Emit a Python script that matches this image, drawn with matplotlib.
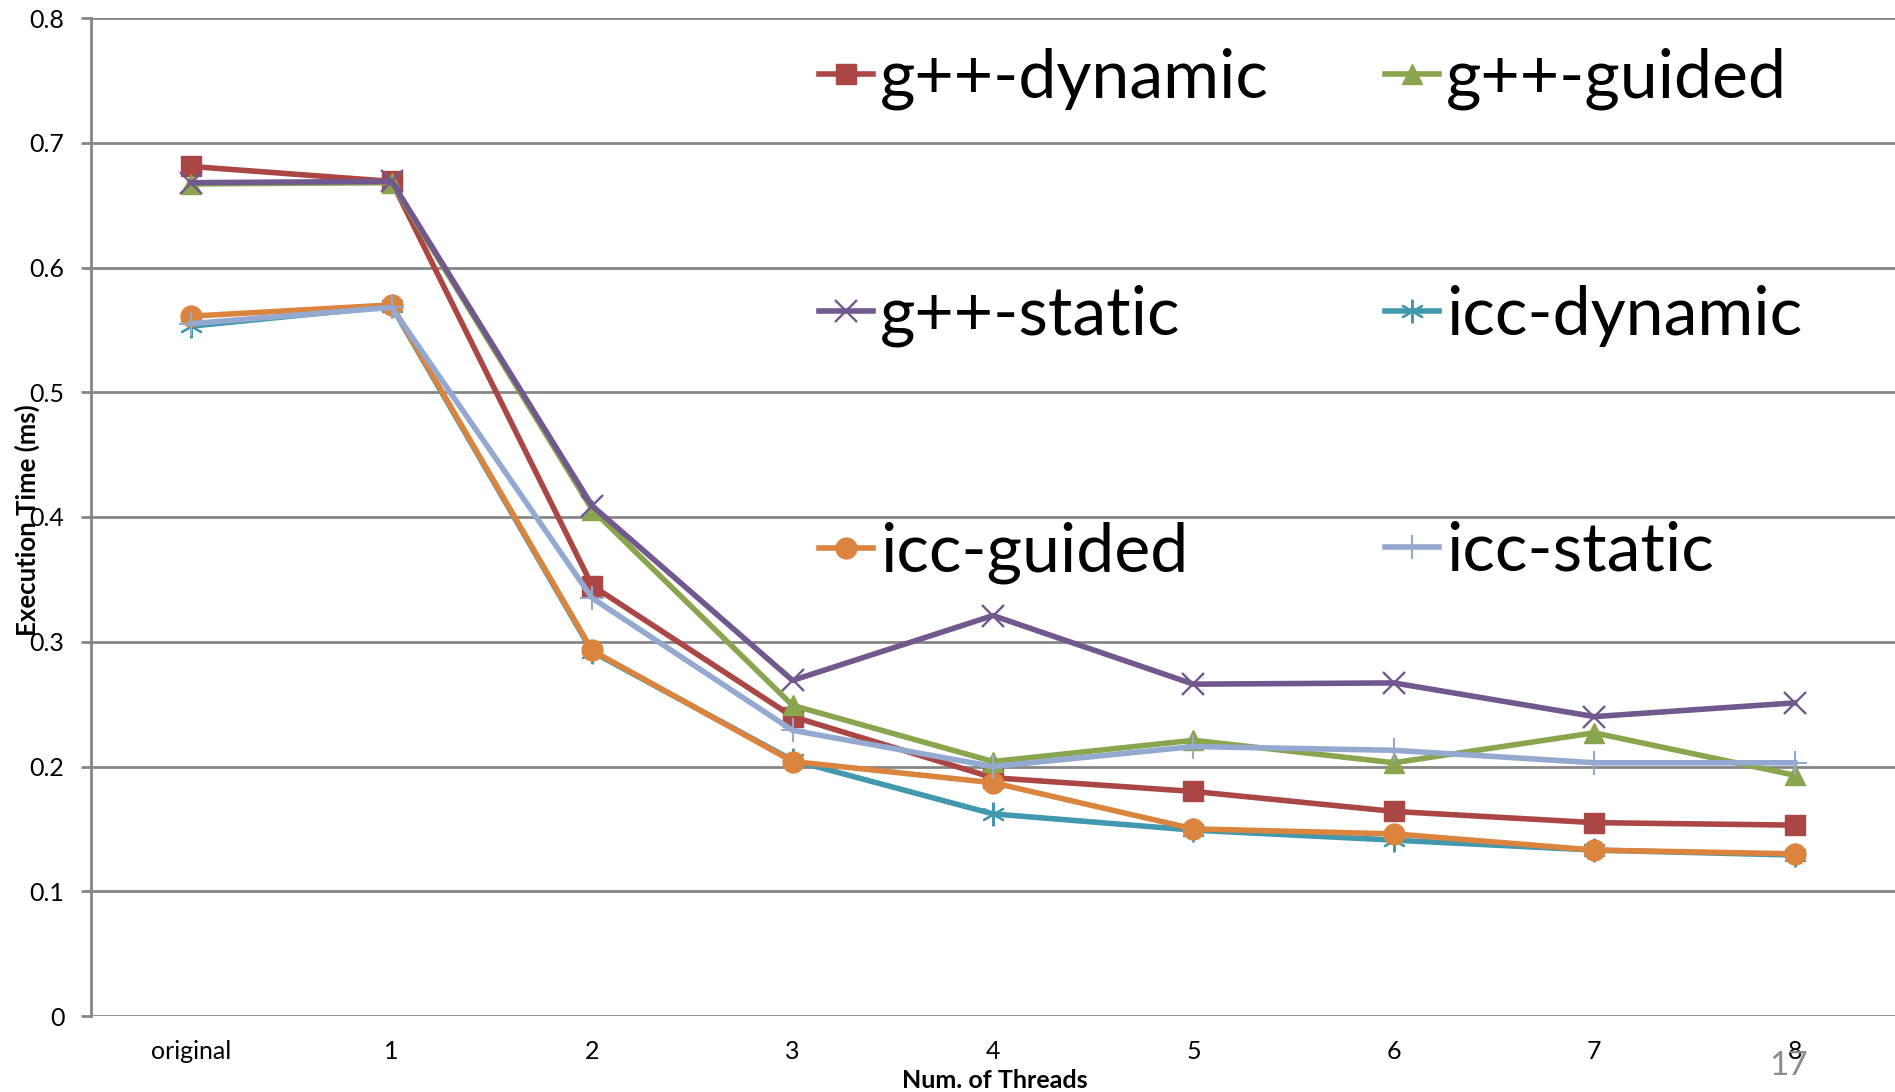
import matplotlib
matplotlib.use('Agg')
import matplotlib.pyplot as plt

plt.rcParams['font.family'] = ['Lato', 'DejaVu Sans']

categories = ['original', '1', '2', '3', '4', '5', '6', '7', '8']

gpp_dynamic = [0.681, 0.669, 0.345, 0.240, 0.191, 0.180, 0.164, 0.155, 0.153]
gpp_guided = [0.667, 0.668, 0.406, 0.249, 0.204, 0.221, 0.203, 0.227, 0.193]
gpp_static = [0.668, 0.669, 0.409, 0.269, 0.321, 0.266, 0.267, 0.240, 0.251]
icc_dynamic = [0.553, 0.569, 0.292, 0.205, 0.162, 0.149, 0.141, 0.133, 0.129]
icc_guided = [0.561, 0.570, 0.293, 0.204, 0.187, 0.150, 0.146, 0.133, 0.130]
icc_static = [0.555, 0.568, 0.335, 0.229, 0.200, 0.216, 0.213, 0.203, 0.203]

series = [
    ('g++-dynamic', gpp_dynamic, '#AA4643', 's', 14, 1),
    ('g++-guided', gpp_guided, '#89A54E', '^', 15, 1),
    ('g++-static', gpp_static, '#71588F', 'x', 16, 1.7),
    ('icc-dynamic', icc_dynamic, '#4198AF', (6, 2, 0), 17, 1.5),
    ('icc-guided', icc_guided, '#DB843D', 'o', 15, 1),
    ('icc-static', icc_static, '#93A9CF', '+', 17, 1.5),
]

fig = plt.figure(figsize=(18.95, 10.92), dpi=100)
ax = fig.add_axes([91 / 1895, 76 / 1092, 1 - 91 / 1895, (1016 - 18) / 1092])

x = list(range(len(categories)))
handles = []
for name, vals, color, mk, ms, mew in series:
    h, = ax.plot(x, vals, color=color, lw=4, marker=mk, markersize=ms,
                 markeredgewidth=mew, markeredgecolor=color, markerfacecolor=color,
                 label=name)
    handles.append(h)

ax.set_xlim(-0.5, len(categories) - 0.5)
ax.set_ylim(0, 0.8)
ax.set_yticks([0, 0.1, 0.2, 0.3, 0.4, 0.5, 0.6, 0.7, 0.8])
ax.set_yticklabels(['0', '0.1', '0.2', '0.3', '0.4', '0.5', '0.6', '0.7', '0.8'])
ax.set_xticks(x)
ax.set_xticklabels(categories)
ax.grid(axis='y', color='#868686', lw=2)
ax.set_axisbelow(True)
for s in ['top', 'right', 'bottom']:
    ax.spines[s].set_visible(False)
ax.spines['left'].set_color('#868686')
ax.spines['left'].set_linewidth(2)
ax.tick_params(axis='y', length=7, width=2, color='#868686', pad=12, labelsize=18)
ax.tick_params(axis='x', length=0, pad=17, labelsize=18)

fig.text(27 / 1895, 1 - 520 / 1092, 'Execution Time (ms)', rotation=90,
         ha='center', va='center', fontsize=18.5, fontweight='bold')
fig.text(995 / 1895, 1 - 1080 / 1092, 'Num. of Threads', ha='center', va='center',
         fontsize=18, fontweight='bold')
fig.text(1789 / 1895, 1 - 1066 / 1092, '17', ha='center', va='center',
         fontsize=24, color='#8C8C8C')

leg_order = [0, 2, 4, 1, 3, 5]
leg = ax.legend([handles[i] for i in leg_order],
                [series[i][0] for i in leg_order],
                ncol=2, loc='upper left', bbox_to_anchor=(819 / 1895, 1 - 48 / 1092),
                bbox_transform=fig.transFigure, frameon=False, fontsize=49,
                handlelength=0.8, handletextpad=0.1, labelspacing=2.56,
                columnspacing=1.7, borderpad=0, borderaxespad=0)

fig.savefig('out.png', dpi=100)
